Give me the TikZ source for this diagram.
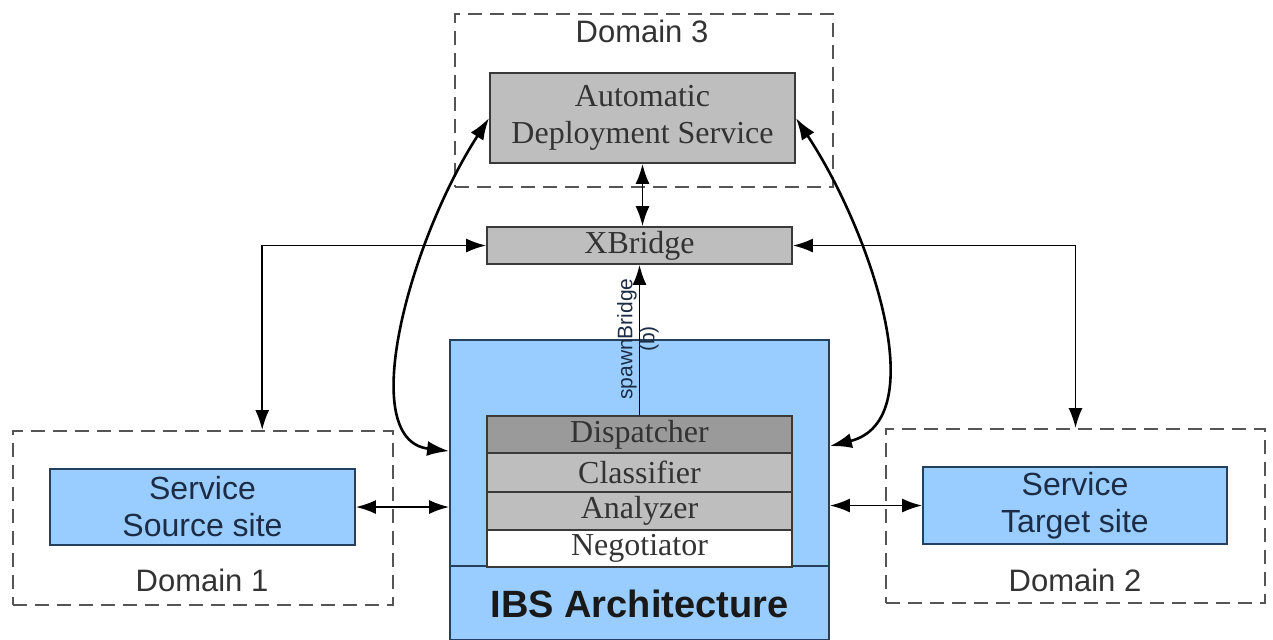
\documentclass[tikz,border=0pt]{standalone}
\usepackage{fontspec}
\setmainfont{Liberation Serif}
\setsansfont{Liberation Sans}
\usetikzlibrary{arrows.meta,calc}
\definecolor{bluefill}{HTML}{99CCFF}
\definecolor{blueline}{HTML}{24405E}
\definecolor{grayfill}{HTML}{BEBEBE}
\definecolor{darkgrayfill}{HTML}{9A9A9A}
\definecolor{boxline}{HTML}{3A3A3A}
\definecolor{dashline}{HTML}{555555}
\definecolor{textgray}{HTML}{333333}
\definecolor{navytext}{HTML}{1C2C44}
\tikzset{
  domainbox/.style={draw=dashline, line width=1pt, dash pattern=on 7pt off 4pt, inner sep=0pt},
  graybox/.style={draw=boxline, line width=0.9pt, fill=grayfill, inner sep=0pt, align=center,
    font=\fontsize{16}{18.5}\selectfont, text=textgray},
  bluebox/.style={draw=blueline, line width=0.9pt, fill=bluefill, inner sep=0pt, align=center,
    font=\sffamily\fontsize{16}{18.5}\selectfont, text=navytext},
  domainlabel/.style={font=\sffamily\fontsize{15.5}{18}\selectfont, text=textgray, inner sep=0pt},
  conn/.style={line width=0.9pt, black, {Latex[length=10pt,width=7pt]}-{Latex[length=10pt,width=7pt]}},
  oneway/.style={line width=0.9pt, black, -{Latex[length=10pt,width=7pt]}},
  curvearrow/.style={line width=1.3pt, black, {Latex[length=11pt,width=7.5pt]}-{Latex[length=11pt,width=7.5pt]}},
  vlabel/.style={rotate=90, font=\sffamily\fontsize{10.5}{12}\selectfont, text=navytext, inner sep=0pt},
}
\begin{document}
\begin{tikzpicture}[x=0.5pt,y=-0.5pt]
\useasboundingbox[fill=white] (0,0) rectangle (1273,639);

% Domain boxes
\node[domainbox, minimum width=189pt, minimum height=86.5pt] (d3) at (644,100.5) {};
\node[domainbox, minimum width=190pt, minimum height=87pt] (d1) at (203,518) {};
\node[domainbox, minimum width=189.5pt, minimum height=87pt] (d2) at (1075.5,516) {};
\node[domainlabel] (d3l) at (642,31) {Domain 3};
\node[domainlabel] (d1l) at (202,580) {Domain 1};
\node[domainlabel] (d2l) at (1075,580) {Domain 2};

% Top services
\node[graybox, minimum width=152.5pt, minimum height=45pt] (ads) at (642.5,118) {Automatic\\Deployment Service};
\node[graybox, minimum width=152.5pt, minimum height=18.5pt] (xb) at (639.5,245.5) {XBridge};

% IBS architecture
\node[draw=blueline, line width=0.9pt, fill=bluefill, inner sep=0pt, minimum width=189.5pt, minimum height=150pt] (ibs) at (639.5,490) {};
\draw[draw=blueline, line width=0.9pt] ($(ibs.north west)+(0,227)$) coordinate (sepL) -- ($(ibs.north east)+(0,227)$) coordinate (sepR);
\node[font=\sffamily\bfseries\fontsize{19}{22}\selectfont, text=black!90, inner sep=0pt] (ibsl) at (639.5,604) {IBS Architecture};

\node[graybox, fill=darkgrayfill, minimum width=152.5pt, minimum height=18.5pt] (disp) at (639.5,434.5) {Dispatcher};
\node[graybox, minimum width=152.5pt, minimum height=19.5pt] (cls) at (639.5,472.5) {Classifier};
\node[graybox, minimum width=152.5pt, minimum height=19pt] (ana) at (639.5,511) {Analyzer};
\node[graybox, fill=white, minimum width=152.5pt, minimum height=18.5pt] (neg) at (639.5,548.5) {Negotiator};

% Service sites
\node[bluebox, minimum width=152.5pt, minimum height=38pt] (src) at (202.5,507) {Service\\Source site};
\node[bluebox, minimum width=152pt, minimum height=38.5pt] (tgt) at (1075,505.5) {Service\\Target site};

% Connectors
\draw[conn] (src.east) -- (ibs.west |- src.east);
\draw[conn] (ibs.east |- tgt.west) -- (tgt.west);
\draw[conn] (ads.south) -- (ads.south |- xb.north);
\draw[conn] (xb.west) -| ($(d1.north west)!0.655!(d1.north east)$);
\draw[conn] (xb.east) -| (d2.north);
\draw[oneway] (disp.north) -- (xb.south);
\node[vlabel] (spl) at (627,339) {spawnBridge};
\node[vlabel] (bl) at (649,339) {(b)};

% Curved connectors
\draw[curvearrow] (ads.west) .. controls (410,240) and (355,440) .. ($(ibs.north west)+(0,112)$);
\draw[curvearrow] (ads.east) .. controls (870,230) and (935,420) .. ($(ibs.north east)+(0,107)$);
\end{tikzpicture}
\end{document}
